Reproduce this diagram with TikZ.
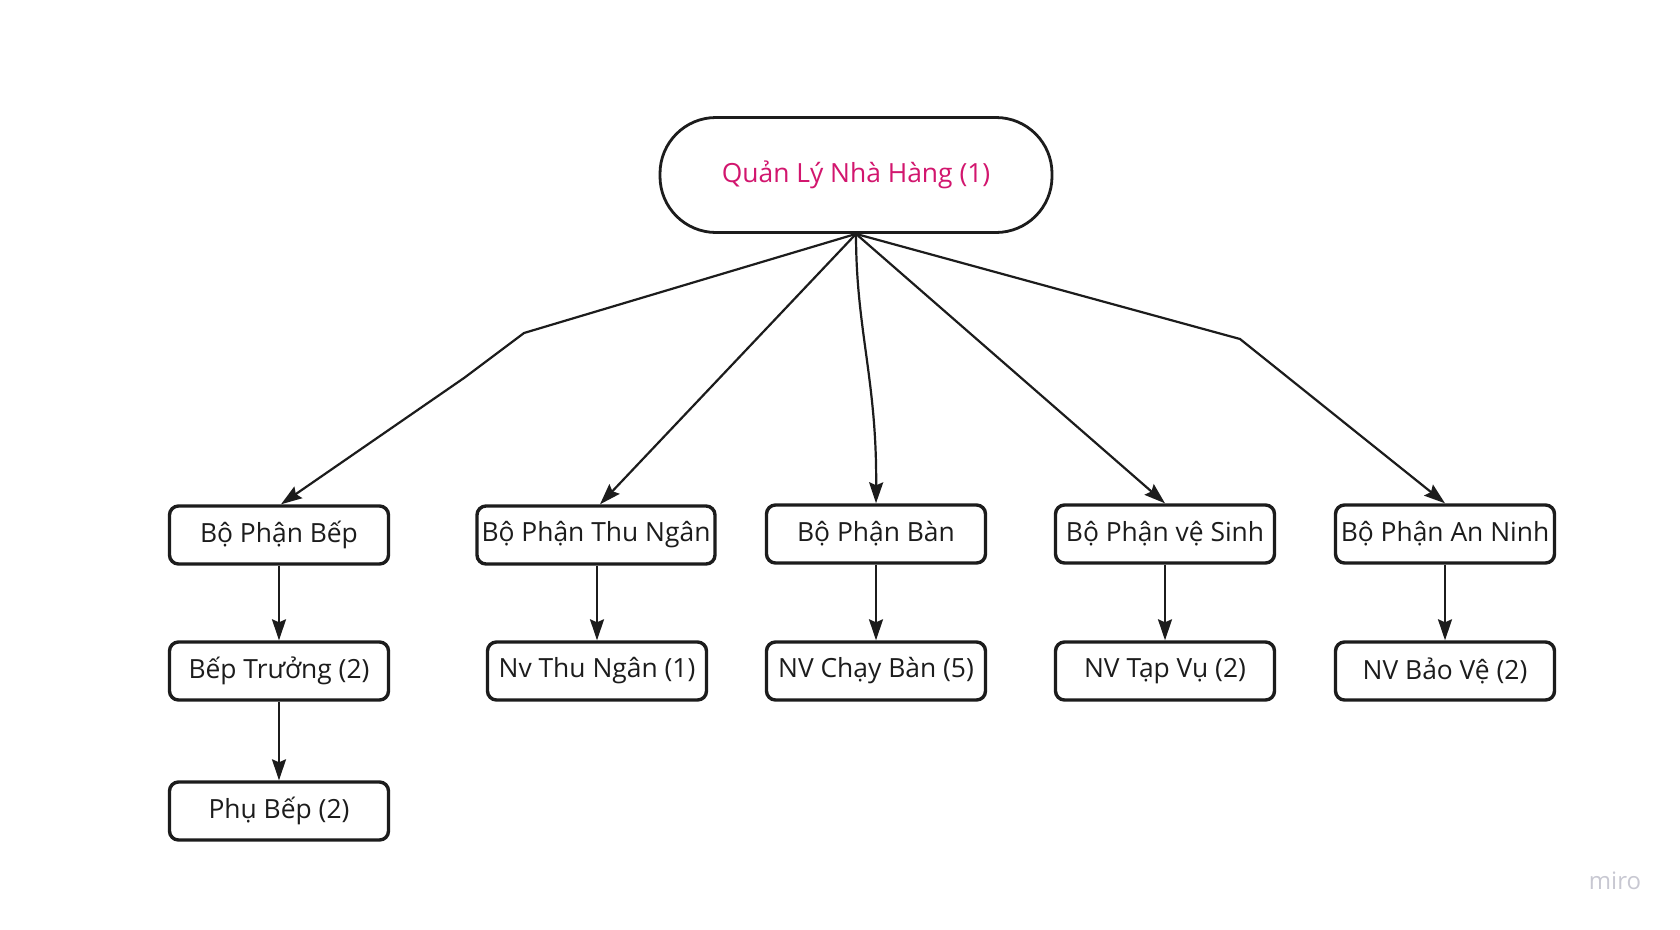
\documentclass[tikz,border=0pt]{standalone}
\usepackage{fontspec}
\setmainfont{Open Sans}
\usetikzlibrary{arrows.meta}
\definecolor{ink}{HTML}{1C1C1C}
\definecolor{pinktext}{HTML}{D2166E}
\definecolor{logogray}{HTML}{C8C8D2}
\tikzset{
  box/.style={draw=ink, line width=3.4pt, rounded corners=9pt, minimum width=219pt, minimum height=58pt, inner sep=0pt, font=\fontsize{26.4}{31}\selectfont, text=ink},
  topbox/.style={draw=ink, line width=2.8pt, rounded corners=56pt, minimum width=392pt, minimum height=115pt, inner sep=0pt, font=\fontsize{26.4}{31}\selectfont, text=pinktext},
  conn/.style={draw=ink, line width=2.2pt, -{Stealth[length=21pt,width=14pt,inset=3pt]}}
}
\begin{document}
\begin{tikzpicture}[x=1pt,y=-1pt]
\useasboundingbox[fill=white] (0,0) rectangle (1680,929);
\node[topbox] (top) at (856,175) {Quản Lý Nhà Hàng (1)};
% row 1
\node[box] (bep) at (279,535) {Bộ Phận Bếp};
\node[box, minimum width=238pt] (thungan) at (596,535) {Bộ Phận Thu Ngân};
\node[box] (ban) at (876,534) {Bộ Phận Bàn};
\node[box] (vesinh) at (1165,534) {Bộ Phận vệ Sinh};
\node[box] (anninh) at (1445,534) {Bộ Phận An Ninh};
% row 2
\node[box] (beptruong) at (279,671) {Bếp Trưởng (2)};
\node[box] (nvthungan) at (597,671) {Nv Thu Ngân (1)};
\node[box] (chayban) at (876,671) {NV Chạy Bàn (5)};
\node[box] (tapvu) at (1165,671) {NV Tạp Vụ (2)};
\node[box] (baove) at (1445,671) {NV Bảo Vệ (2)};
% row 3
\node[box] (phubep) at (279,811) {Phụ Bếp (2)};
% logo
\node[text=logogray, font=\fontsize{24}{28}\selectfont, inner sep=0pt] (logo) at (1615,881) {miro};
% bends
\coordinate (b1) at (524,333);
\coordinate (b2) at (464,378);
\coordinate (b3) at (1240,339);
% connectors from top
\draw[conn] (top.south) -- (b1) -- (b2) -- ([xshift=2pt]bep.north);
\draw[conn] (top.south) -- ([xshift=4pt]thungan.north);
\draw[conn] (top.south) .. controls (856,330) and (877,380) .. (ban.north);
\draw[conn] (top.south) -- (vesinh.north);
\draw[conn] (top.south) -- (b3) -- (anninh.north);
% vertical
\draw[conn] (bep.south) -- (beptruong.north);
\draw[conn] (beptruong.south) -- (phubep.north);
\draw[conn] (nvthungan.north |- thungan.south) -- (nvthungan.north);
\draw[conn] (ban.south) -- (chayban.north);
\draw[conn] (vesinh.south) -- (tapvu.north);
\draw[conn] (anninh.south) -- (baove.north);
\end{tikzpicture}
\end{document}
